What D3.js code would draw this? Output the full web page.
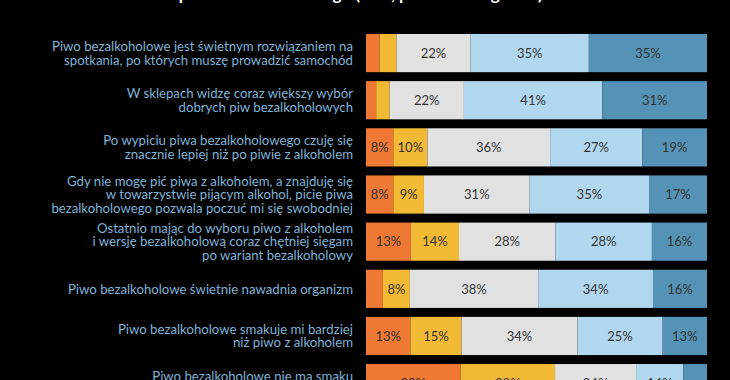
<!DOCTYPE html>
<html><head><meta charset="utf-8">
<script src="https://cdn.jsdelivr.net/npm/d3@7"></script>
<style>
html,body{margin:0;padding:0;background:#000;}
svg{display:block;}
</style></head>
<body>
<svg id="chart" width="730" height="380"></svg>
<script>
const title = "Stosunek do piwa bezalkoholowego (w %, podstawa: ogółem)";
const categories = [
  ["Piwo bezalkoholowe jest świetnym rozwiązaniem na", "spotkania, po których muszę prowadzić samochód"],
  ["W sklepach widzę coraz większy wybór", "dobrych piw bezalkoholowych"],
  ["Po wypiciu piwa bezalkoholowego czuję się", "znacznie lepiej niż po piwie z alkoholem"],
  ["Gdy nie mogę pić piwa z alkoholem, a znajduję się", "w towarzystwie pijącym alkohol, picie piwa", "bezalkoholowego pozwala poczuć mi się swobodniej"],
  ["Ostatnio mając do wyboru piwo z alkoholem", "i wersję bezalkoholową coraz chętniej sięgam", "po wariant bezalkoholowy"],
  ["Piwo bezalkoholowe świetnie nawadnia organizm"],
  ["Piwo bezalkoholowe smakuje mi bardziej", "niż piwo z alkoholem"],
  ["Piwo bezalkoholowe nie ma smaku", "prawdziwego piwa"]
];
const seriesNames = ["Zdecydowanie się nie zgadzam", "Raczej się nie zgadzam", "Ani tak, ani nie", "Raczej się zgadzam", "Zdecydowanie się zgadzam"];
const strongNo  = [4, 3, 8, 8, 13, 5, 13, 28];
const ratherNo  = [5, 4, 10, 9, 14, 8, 15, 28];
const neutral   = [22, 22, 36, 31, 28, 38, 34, 24];
const ratherYes = [35, 41, 27, 35, 28, 34, 25, 14];
const strongYes = [35, 31, 19, 17, 16, 16, 13, 7];
const colors = ["#ef7834", "#f2b935", "#e1e1e1", "#b1d7ee", "#5593b6"];

const series = [strongNo, ratherNo, neutral, ratherYes, strongYes];
const svg = d3.select("#chart");
const W = 730, H = 380;
svg.append("rect").attr("width", W).attr("height", H).attr("fill", "#000");

const x = d3.scaleLinear().domain([0, 1]).range([366, 707]);
const y = d3.scaleBand().domain(d3.range(categories.length))
  .range([29.5, 29.5 + 47.15 * categories.length]).paddingInner(0.19).paddingOuter(0.095);

// title (mostly above the visible area)
svg.append("text").attr("x", 312).attr("y", 0)
  .attr("text-anchor", "middle").attr("fill", "#fff")
  .attr("font-family", "Lato, sans-serif").attr("font-weight", "bold").attr("font-size", 17)
  .text(title);

const rows = categories.map((c, i) => {
  const vals = series.map(s => s[i]);
  const total = d3.sum(vals);
  let acc = 0;
  return vals.map((v, k) => { const seg = {i, k, v, x0: acc / total, x1: (acc + v) / total}; acc += v; return seg; });
});

const g = svg.append("g");
rows.forEach(segs => {
  g.selectAll(null).data(segs).enter().append("rect")
    .attr("x", d => x(d.x0)).attr("width", d => x(d.x1) - x(d.x0))
    .attr("y", d => y(d.i)).attr("height", y.bandwidth())
    .attr("fill", d => colors[d.k]);
  g.selectAll(null).data(segs.filter(d => d.v >= 8)).enter().append("text")
    .attr("x", d => (x(d.x0) + x(d.x1)) / 2)
    .attr("y", d => y(d.i) + y.bandwidth() / 2)
    .attr("dy", "0.36em")
    .attr("text-anchor", "middle")
    .attr("fill", "#333")
    .attr("font-family", "Lato, sans-serif").attr("font-size", 13)
    .text(d => d.v + "%");
});

// category labels
const lh = 13.4;
categories.forEach((lines, i) => {
  const cy = y(i) + y.bandwidth() / 2;
  const t = svg.append("text").attr("text-anchor", "end")
    .attr("fill", "#7fb3d7").attr("font-family", "Lato, sans-serif").attr("font-size", 13.2);
  lines.forEach((ln, j) => {
    t.append("tspan").attr("x", 353)
      .attr("y", cy + (j - (lines.length - 1) / 2) * lh)
      .attr("dy", "0.36em").text(ln);
  });
});
</script>
</body></html>
